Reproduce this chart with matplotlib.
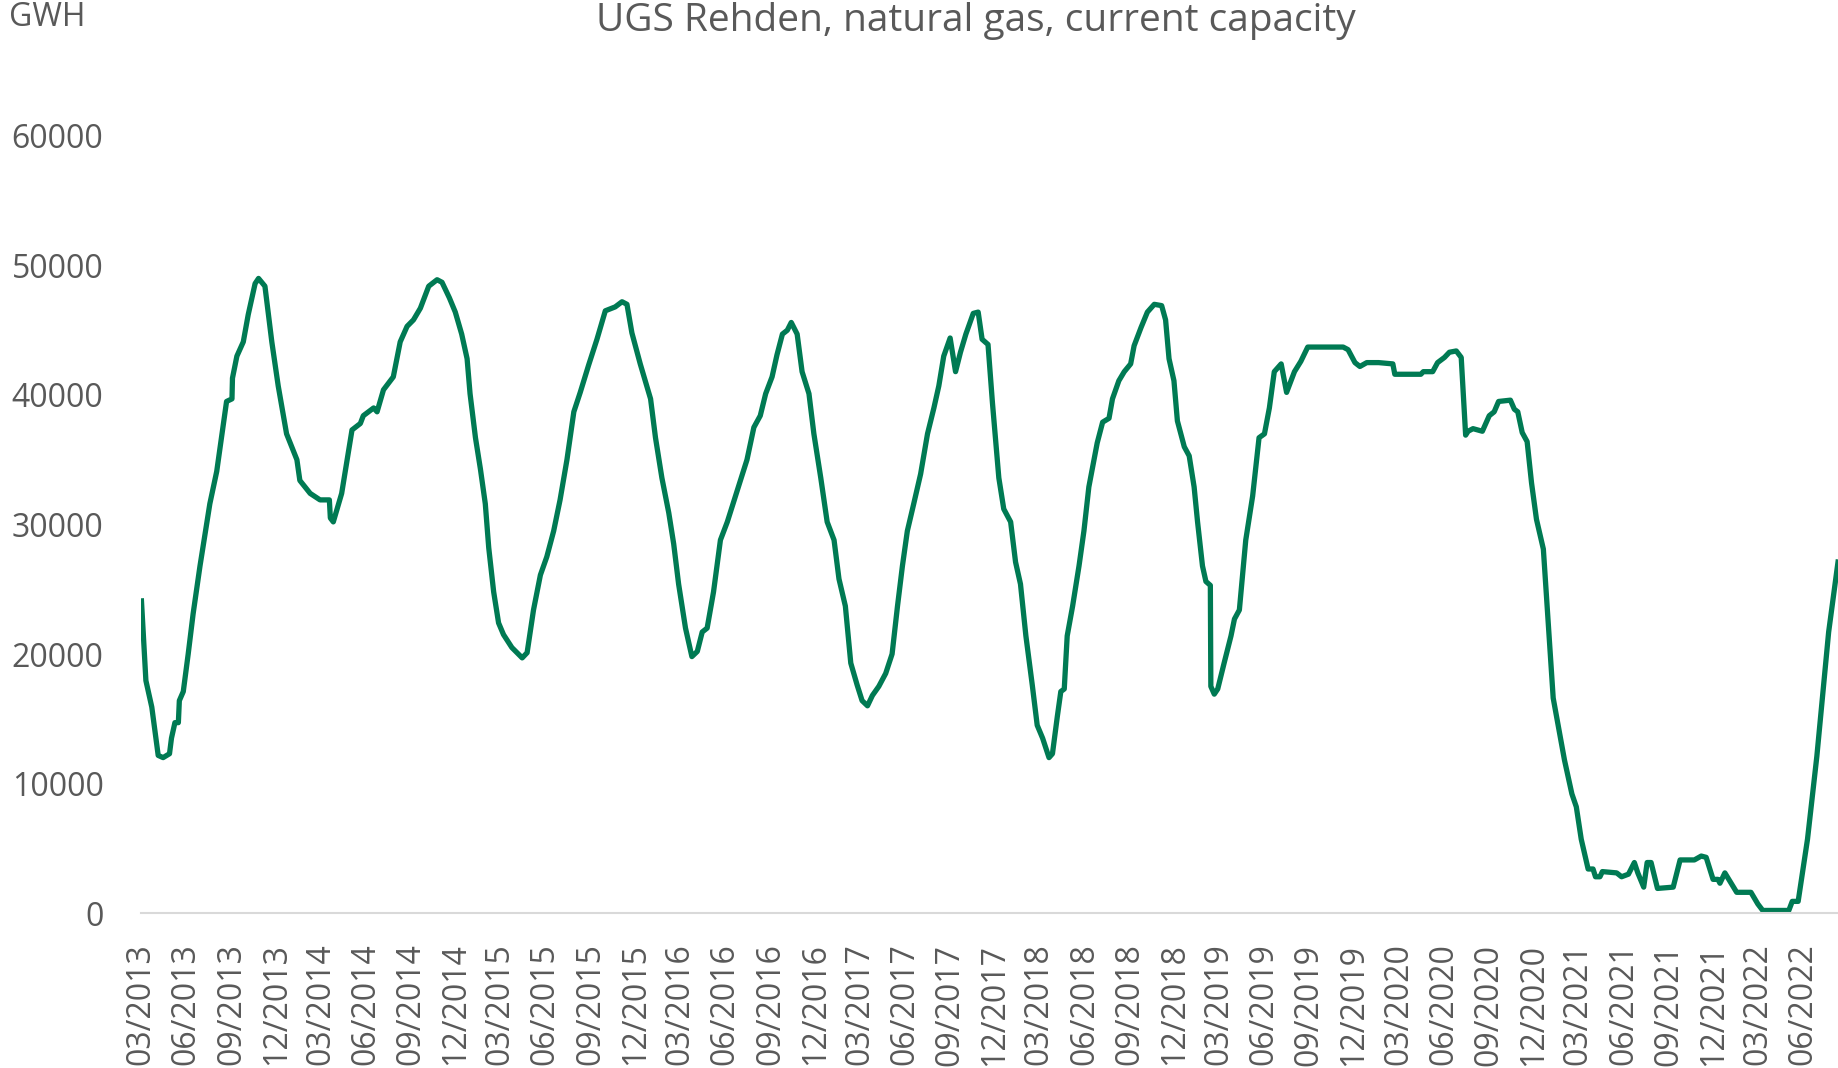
import pandas as pd
import matplotlib
matplotlib.use('Agg')
import matplotlib.pyplot as plt
import matplotlib.dates as mdates

plt.rcParams['font.family'] = ['Open Sans', 'DejaVu Sans']

title = 'UGS Rehden, natural gas, current capacity'
unit = 'GWH'
yticks = [0, 10000, 20000, 30000, 40000, 50000, 60000]

# storage level (GWh)
dates = [
    '2013-03-02', '2013-03-11', '2013-03-23', '2013-04-05', '2013-04-15', '2013-04-28',
    '2013-05-02', '2013-05-09', '2013-05-16', '2013-05-18', '2013-05-26', '2013-06-05',
    '2013-06-15', '2013-06-29', '2013-07-19', '2013-08-02', '2013-08-09', '2013-08-22',
    '2013-09-02', '2013-09-03', '2013-09-12', '2013-09-25', '2013-10-05', '2013-10-19',
    '2013-10-26', '2013-11-08', '2013-11-22', '2013-12-05', '2013-12-22',
    '2014-01-12', '2014-01-18', '2014-02-08', '2014-02-28', '2014-03-19', '2014-03-21',
    '2014-03-27', '2014-04-13', '2014-05-04', '2014-05-21', '2014-05-27', '2014-06-17',
    '2014-06-24', '2014-07-07', '2014-07-27', '2014-08-10', '2014-08-24', '2014-09-06',
    '2014-09-20', '2014-10-07', '2014-10-24', '2014-11-03', '2014-11-18', '2014-11-30',
    '2014-12-13', '2014-12-24', '2014-12-30',
    '2015-01-10', '2015-01-20', '2015-01-30', '2015-02-06', '2015-02-16', '2015-02-26',
    '2015-03-08', '2015-03-25', '2015-04-15', '2015-04-25', '2015-05-08', '2015-05-22',
    '2015-06-04', '2015-06-18', '2015-07-01', '2015-07-15', '2015-07-29', '2015-08-11',
    '2015-08-28', '2015-09-14', '2015-10-01', '2015-10-21', '2015-11-04', '2015-11-14',
    '2015-11-24', '2015-12-11',
    '2016-01-01', '2016-01-11', '2016-01-24', '2016-02-07', '2016-02-17', '2016-02-27',
    '2016-03-12', '2016-03-25', '2016-04-05', '2016-04-15', '2016-04-25', '2016-05-08',
    '2016-05-22', '2016-06-05', '2016-06-25', '2016-07-15', '2016-07-29', '2016-08-11',
    '2016-08-22', '2016-09-04', '2016-09-14', '2016-09-25', '2016-10-05', '2016-10-13',
    '2016-10-25', '2016-11-04', '2016-11-18', '2016-11-28', '2016-12-12', '2016-12-25',
    '2017-01-08', '2017-01-18', '2017-01-31', '2017-02-11', '2017-02-24', '2017-03-06',
    '2017-03-17', '2017-03-27', '2017-04-09', '2017-04-23', '2017-05-06', '2017-05-17',
    '2017-05-27', '2017-06-06', '2017-06-19', '2017-07-03', '2017-07-17', '2017-07-30',
    '2017-08-09', '2017-08-19', '2017-09-01', '2017-09-12', '2017-09-22', '2017-10-03',
    '2017-10-18', '2017-10-28', '2017-11-05', '2017-11-17', '2017-11-26', '2017-12-09',
    '2017-12-19',
    '2018-01-02', '2018-01-12', '2018-01-22', '2018-02-02', '2018-02-15', '2018-02-25',
    '2018-03-08', '2018-03-21', '2018-03-28', '2018-04-07', '2018-04-14', '2018-04-21',
    '2018-04-27', '2018-05-08', '2018-05-21', '2018-05-31', '2018-06-10', '2018-06-27',
    '2018-07-08', '2018-07-21', '2018-07-28', '2018-08-10', '2018-08-21', '2018-09-03',
    '2018-09-10', '2018-09-24', '2018-10-07', '2018-10-21', '2018-11-05', '2018-11-13',
    '2018-11-20', '2018-11-30', '2018-12-07', '2018-12-21', '2018-12-31',
    '2019-01-10', '2019-01-17', '2019-01-27', '2019-02-03', '2019-02-12', '2019-02-13',
    '2019-02-20', '2019-02-27', '2019-03-12', '2019-03-26', '2019-04-02', '2019-04-12',
    '2019-04-25', '2019-05-09', '2019-05-22', '2019-06-02', '2019-06-12', '2019-06-22',
    '2019-07-06', '2019-07-17', '2019-08-02', '2019-08-15', '2019-08-29', '2019-11-09',
    '2019-11-19', '2019-12-03', '2019-12-13', '2019-12-27',
    '2020-01-20', '2020-02-18', '2020-02-22', '2020-04-15', '2020-04-20', '2020-05-09',
    '2020-05-19', '2020-06-02', '2020-06-12', '2020-06-26', '2020-07-06', '2020-07-15',
    '2020-07-20', '2020-07-30', '2020-08-18', '2020-09-01', '2020-09-11', '2020-09-20',
    '2020-10-14', '2020-10-22', '2020-10-29', '2020-11-07', '2020-11-17', '2020-11-26',
    '2020-12-06', '2020-12-20', '2020-12-30',
    '2021-01-09', '2021-01-23', '2021-02-01', '2021-02-16', '2021-02-25', '2021-03-07',
    '2021-03-21', '2021-03-31', '2021-04-05', '2021-04-14', '2021-04-19', '2021-05-18',
    '2021-05-28', '2021-06-11', '2021-06-23', '2021-06-30', '2021-07-12', '2021-07-19',
    '2021-07-27', '2021-08-09', '2021-09-10', '2021-09-24', '2021-10-23', '2021-11-06',
    '2021-11-16', '2021-11-30', '2021-12-10', '2021-12-14', '2021-12-24',
    '2022-01-17', '2022-02-15', '2022-03-01', '2022-03-11', '2022-05-03', '2022-05-10',
    '2022-05-22', '2022-06-10', '2022-06-29', '2022-07-23', '2022-08-11',
]
values = [
    24100, 17950, 15900, 12170, 12000, 12300,
    13500, 14700, 14700, 16400, 17100, 20000,
    23100, 26800, 31600, 34100, 36000, 39500,
    39700, 41300, 43000, 44100, 46200, 48600,
    49000, 48400, 44100, 40700, 37000,
    35000, 33400, 32400, 31900, 31900, 30500,
    30200, 32400, 37300, 37800, 38400, 39000,
    38700, 40400, 41400, 44100, 45300, 45800,
    46700, 48400, 48900, 48700, 47500, 46400,
    44700, 42800, 40100,
    36700, 34300, 31600, 28200, 24800, 22400,
    21500, 20500, 19700, 20100, 23400, 26100,
    27500, 29500, 31900, 35000, 38700, 40200,
    42300, 44300, 46500, 46800, 47200, 47000,
    44800, 42400,
    39700, 36700, 33600, 30900, 28500, 25400,
    22000, 19800, 20200, 21700, 22000, 24800,
    28800, 30200, 32600, 35000, 37500, 38400,
    40100, 41400, 43100, 44700, 45000, 45600,
    44700, 41800, 40100, 37000, 33600, 30200,
    28800, 25800, 23700, 19300, 17600, 16400,
    16000, 16800, 17500, 18500, 20000, 23700,
    26800, 29500, 31600, 33900, 37000, 39000,
    40700, 43000, 44400, 41800, 43300, 44700,
    46300, 46400, 44300, 43900, 39400, 33600,
    31200,
    30200, 27100, 25400, 21400, 17600, 14500,
    13500, 12000, 12300, 15200, 17100, 17300,
    21400, 23700, 26800, 29500, 32900, 36300,
    37900, 38200, 39700, 41100, 41800, 42400,
    43800, 45200, 46400, 47000, 46900, 45800,
    42800, 41100, 38000, 36000, 35300,
    32900, 30200, 26800, 25600, 25300, 17500,
    16900, 17300, 19300, 21400, 22700, 23400,
    28800, 32200, 36700, 37000, 39000, 41800,
    42400, 40200, 41800, 42600, 43700, 43700,
    43500, 42500, 42200, 42500,
    42500, 42400, 41600, 41600, 41800, 41800,
    42500, 42900, 43300, 43400, 42900, 36900,
    37200, 37400, 37200, 38400, 38700, 39500,
    39600, 38900, 38700, 37100, 36400, 33200,
    30400, 28100, 22300,
    16600, 13700, 11800, 9200, 8200, 5700,
    3400, 3400, 2800, 2800, 3200, 3100,
    2800, 3000, 3900, 3100, 2000, 3900,
    3900, 1900, 2000, 4100, 4100, 4400,
    4300, 2600, 2600, 2300, 3100,
    1600, 1600, 700, 200, 200, 900,
    900, 5700, 12100, 21700, 27100,
]

x = pd.to_datetime(dates)

fig = plt.figure(figsize=(18.38, 10.68), dpi=100)
ax = fig.add_axes([0.0767, 0.1451, 0.9233, 0.7276])

ax.plot(x, values, color='#007A53', lw=3.8, solid_joinstyle='round')

ax.set_xlim(pd.Timestamp('2013-03-01'), x[-1])
ax.set_ylim(0, 60000)
ax.set_yticks(yticks)

ax.xaxis.set_major_locator(mdates.MonthLocator(bymonth=[3, 6, 9, 12]))
ax.xaxis.set_major_formatter(mdates.DateFormatter('%m/%Y'))
for lab in ax.get_xticklabels():
    lab.set_rotation(90)

ax.tick_params(axis='x', length=0, pad=22, labelsize=23, labelcolor='#595959')
ax.tick_params(axis='y', length=0, pad=27, labelsize=23, labelcolor='#595959')

for s in ['top', 'right', 'left']:
    ax.spines[s].set_visible(False)
ax.spines['bottom'].set_color('#D9D9D9')
ax.spines['bottom'].set_linewidth(1.5)

fig.text(0.531, 0.980, title, ha='center', va='center', fontsize=28, color='#595959')
fig.text(0.005, 0.984, unit, ha='left', va='center', fontsize=23, color='#595959')

fig.savefig('out.png', dpi=100, facecolor='white')
